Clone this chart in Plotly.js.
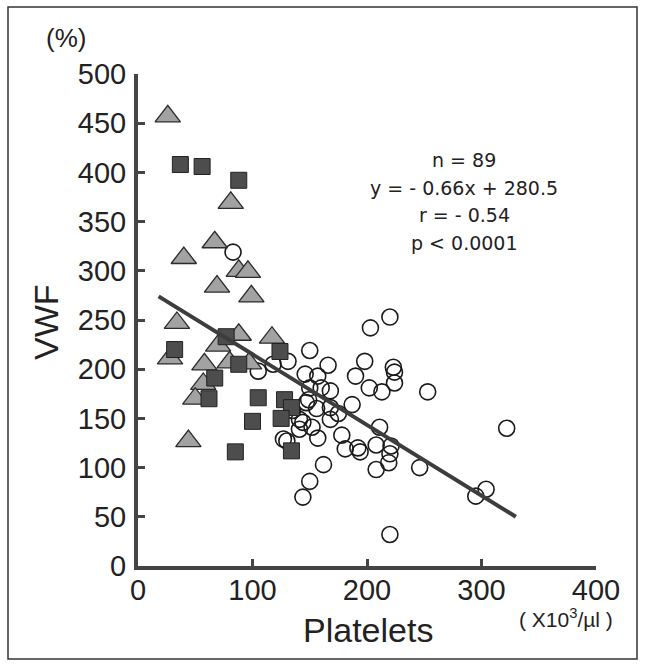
<!DOCTYPE html>
<html><head><meta charset="utf-8">
<script src="https://cdn.plot.ly/plotly-3.0.1.min.js"></script>
<style>html,body{margin:0;padding:0;background:#fff}#chart{width:646px;height:666px}</style>
</head><body><div id="chart"></div>
<script>
// Triangles group
const triX = [26, 81, 67, 40, 88, 96, 69, 99, 34, 28, 88, 70, 117, 58, 80, 97, 57, 50, 44];
const triY = [457, 369, 329, 313, 300, 299, 284, 274, 247, 211, 235, 224, 232, 205, 207, 206, 185, 170, 127];
// Filled squares group
const sqX = [37, 56, 88, 32, 77, 124, 88, 67, 62, 105, 128, 134, 125, 100, 85, 134];
const sqY = [408, 406, 392, 220, 233, 218, 205, 191, 170, 171, 169, 161, 150, 147, 116, 117];
// Open circles group
const cirX = [83, 105, 150, 131, 166, 198, 146, 157, 190, 223, 224, 224, 202, 213, 168, 160, 149, 187, 168, 144,
              168, 152, 141, 157, 127, 211, 181, 192, 194, 208, 221, 220, 219, 208, 246, 162, 150, 144, 220, 203,
              220, 253, 322, 295, 304, 147, 141, 130, 150, 175, 135, 156, 178, 118];
const cirY = [319, 198, 219, 208, 204, 208, 195, 193, 193, 202, 197, 186, 181, 177, 178, 181, 169, 164, 161, 146,
              149, 141, 139, 130, 129, 141, 119, 120, 116, 123, 122, 114, 105, 98, 100, 103, 86, 70, 32, 242,
              253, 177, 140, 71, 78, 166, 149, 127, 181, 155, 158, 160, 133, 205];
// Regression line end points
const fitX = [18, 330];
const fitY = [274, 50];
const statLines = ["n = 89", "y = - 0.66x + 280.5", "r = - 0.54", "p < 0.0001"];
const xTicks = [0, 100, 200, 300, 400];
const yTicks = [0, 50, 100, 150, 200, 250, 300, 350, 400, 450, 500];

const W = 646, H = 666, L = 138, R = 50, T = 74, B = 100;
const pw = W - L - R, ph = H - T - B;
const px = x => (x - L) / pw;
const py = y => (H - B - y) / ph;
const FONT = "Liberation Sans, Arial, Helvetica, sans-serif";
const WIDE = "DejaVu Sans, Liberation Sans, Arial, sans-serif";
const INK = "#222";

const traces = [
  {x: cirX, y: cirY, mode: "markers", type: "scatter",
   marker: {symbol: "circle-open", size: 16, color: "#1a1a1a", line: {width: 1.6}}},
  {x: triX, y: triY, mode: "markers", type: "scatter",
   marker: {symbol: "triangle-up", size: 22, color: "#a2a2a2", line: {color: "#2a2a2a", width: 1.3}}},
  {x: sqX, y: sqY, mode: "markers", type: "scatter",
   marker: {symbol: "square", size: 16, color: "#4d4d4d", line: {color: "#222", width: 1}}},
  {x: fitX, y: fitY, mode: "lines", type: "scatter",
   line: {color: "#3d3d3d", width: 4}}
];

const ann = [];
const statY = [160, 188, 215, 243];
statLines.forEach((t, i) => ann.push({xref: "paper", yref: "paper", x: px(464), y: py(statY[i]),
  text: t, showarrow: false, xanchor: "center", yanchor: "middle", font: {size: 19, color: INK, family: WIDE}}));
ann.push({xref: "paper", yref: "paper", x: px(46), y: py(322), text: "VWF", textangle: -90, showarrow: false,
  xanchor: "center", yanchor: "middle", font: {size: 34, color: INK, family: FONT}});
ann.push({xref: "paper", yref: "paper", x: px(368), y: py(630), text: "Platelets", showarrow: false,
  xanchor: "center", yanchor: "middle", font: {size: 34, color: INK, family: FONT}});
ann.push({xref: "paper", yref: "paper", x: px(566), y: py(618), text: "( X10<sup>3</sup>/µl )", showarrow: false,
  xanchor: "center", yanchor: "middle", font: {size: 21, color: INK, family: FONT}});
ann.push({xref: "paper", yref: "paper", x: px(66), y: py(38), text: "(%)", showarrow: false,
  xanchor: "center", yanchor: "middle", font: {size: 26, color: INK, family: FONT}});

const axisCommon = {showline: true, linecolor: "#444", linewidth: 4, ticks: "inside", ticklen: 7,
  tickwidth: 3, tickcolor: "#444", showgrid: false, zeroline: false, fixedrange: true,
  tickfont: {size: 29, color: INK, family: FONT}, tickmode: "array"};

const layout = {
  width: W, height: H, margin: {l: L, r: R, t: T, b: B, pad: 0},
  paper_bgcolor: "#fff", plot_bgcolor: "#fff", showlegend: false,
  font: {family: FONT, color: INK},
  xaxis: Object.assign({}, axisCommon, {range: [0, 400], tickvals: xTicks, ticktext: xTicks.map(String), ticklabelstandoff: -5}),
  yaxis: Object.assign({}, axisCommon, {range: [0, 500], tickvals: yTicks, ticktext: yTicks.map(String), ticklabelstandoff: 2}),
  annotations: ann,
  shapes: [{type: "rect", xref: "paper", yref: "paper", x0: px(8), x1: px(637), y0: py(7), y1: py(659),
    line: {color: "#333", width: 1.5}, fillcolor: "rgba(0,0,0,0)", layer: "below"}]
};

Plotly.newPlot("chart", traces, layout, {displayModeBar: false, staticPlot: true});
</script></body></html>
